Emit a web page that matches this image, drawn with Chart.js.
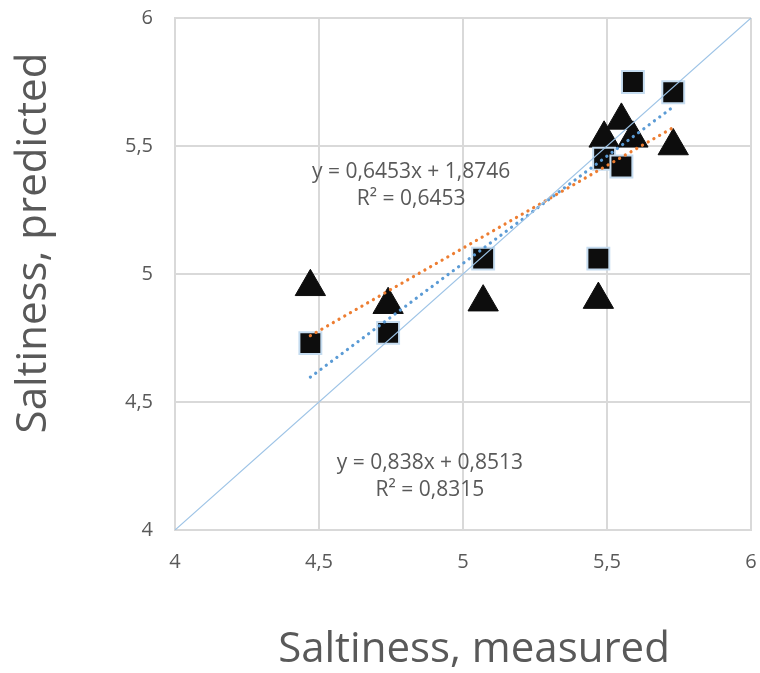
<!DOCTYPE html>
<html>
<head>
<meta charset="utf-8">
<script src="https://cdn.jsdelivr.net/npm/chart.js@4.4.1/dist/chart.umd.min.js"></script>
<style>
  html, body { margin: 0; padding: 0; background: #fff; }
  #wrap { width: 760px; height: 673px; }
</style>
</head>
<body>
<div id="wrap"><canvas id="myChart" width="760" height="673"></canvas></div>
<script>
// values
const measured = [4.47, 4.74, 5.07, 5.47, 5.49, 5.55, 5.59, 5.73];
const predictedSquares = [4.73, 4.77, 5.06, 5.06, 5.45, 5.42, 5.75, 5.71];
const predictedTriangles = [4.95, 4.88, 4.89, 4.90, 5.53, 5.60, 5.53, 5.50];

// trend lines as given by the printed equations
const trendSquares = { slope: 0.838, intercept: 0.8513, r2: 0.8315 };
const trendTriangles = { slope: 0.6453, intercept: 1.8746, r2: 0.6453 };
const trendRange = [4.47, 5.73];
const identityLine = [4, 6];

const axisTicks = [4, 4.5, 5, 5.5, 6];
const xTitle = 'Saltiness, measured';
const yTitle = 'Saltiness, predicted';

const grey = '#595959';
const font = 'Open Sans';

function pairs(xs, ys) {
    return xs.map((x, i) => ({ x: x, y: ys[i] }));
}
function trendPoints(t) {
    return trendRange.map(x => ({ x: x, y: t.slope * x + t.intercept }));
}
function fmt(v, d) {
    return v.toFixed(d).replace('.', ',');
}

// equation labels, placed in data units
const labels = [
    { x: 4.82, y: 5.40, lines: ['y = ' + fmt(trendTriangles.slope, 4) + 'x + ' + fmt(trendTriangles.intercept, 4), 'R² = ' + fmt(trendTriangles.r2, 4)] },
    { x: 4.885, y: 4.26, lines: ['y = ' + fmt(trendSquares.slope, 3) + 'x + ' + fmt(trendSquares.intercept, 4), 'R² = ' + fmt(trendSquares.r2, 4)] }
];

const textPlugin = {
    id: 'texts',
    afterDatasetsDraw(chart) {
        const ctx = chart.ctx;
        const xs = chart.scales.x, ys = chart.scales.y;
        ctx.save();
        ctx.fillStyle = grey;
        ctx.font = '21px "' + font + '"';
        ctx.textAlign = 'center';
        ctx.textBaseline = 'middle';
        labels.forEach(l => {
            const px = xs.getPixelForValue(l.x);
            const py = ys.getPixelForValue(l.y);
            l.lines.forEach((t, i) => ctx.fillText(t, px, py + i * 27));
        });

        // axis titles (the reference does not centre them on the plot)
        ctx.font = '42px "' + font + '"';
        ctx.textBaseline = 'alphabetic';
        ctx.fillText(xTitle, 474, 662);
        ctx.translate(46, 243);
        ctx.rotate(-Math.PI / 2);
        ctx.fillText(yTitle, 0, 0);
        ctx.restore();
    }
};

const ctx = document.getElementById('myChart').getContext('2d');
const myChart = new Chart(ctx, {
    type: 'scatter',
    data: {
        datasets: [
            {
                type: 'line',
                data: pairs(identityLine, identityLine),
                borderColor: '#9dc3e6',
                borderWidth: 1.2,
                pointRadius: 0
            },
            {
                type: 'line',
                data: trendPoints(trendSquares),
                borderColor: '#5b9bd5',
                borderWidth: 3.2,
                borderDash: [0.1, 6.5],
                borderCapStyle: 'round',
                pointRadius: 0
            },
            {
                type: 'line',
                data: trendPoints(trendTriangles),
                borderColor: '#ed7d31',
                borderWidth: 3.2,
                borderDash: [0.1, 6.5],
                borderCapStyle: 'round',
                pointRadius: 0
            },
            {
                data: pairs(measured, predictedSquares),
                pointStyle: 'rect',
                pointRadius: 15.5,
                backgroundColor: '#0d0d0d',
                borderColor: '#c5dcf0',
                borderWidth: 2
            },
            {
                data: pairs(measured, predictedTriangles),
                pointStyle: 'triangle',
                pointRadius: 17.5,
                backgroundColor: '#0d0d0d',
                borderColor: '#0d0d0d',
                borderWidth: 1
            }
        ]
    },
    options: {
        responsive: false,
        animation: false,
        layout: { autoPadding: false, padding: { top: 18, right: 9, left: 0, bottom: 0 } },
        plugins: {
            legend: { display: false },
            tooltip: { enabled: false }
        },
        scales: {
            x: {
                type: 'linear',
                min: 4,
                max: 6,
                afterBuildTicks: s => { s.ticks = axisTicks.map(v => ({ value: v })); },
                afterFit: s => { s.height = 143; s.paddingLeft = 0; s.paddingRight = 0; },
                ticks: {
                    color: grey,
                    font: { family: font, size: 20 },
                    padding: 20,
                    callback: v => String(v).replace('.', ',')
                },
                grid: { color: '#d9d9d9', lineWidth: 2, drawTicks: false },
                border: { color: '#d9d9d9', width: 2 }
            },
            y: {
                type: 'linear',
                min: 4,
                max: 6,
                afterBuildTicks: s => { s.ticks = axisTicks.map(v => ({ value: v })); },
                afterFit: s => { s.width = 175; s.paddingTop = 0; s.paddingBottom = 0; },
                ticks: {
                    color: grey,
                    font: { family: font, size: 20 },
                    padding: 22,
                    callback: v => String(v).replace('.', ',')
                },
                grid: { color: '#d9d9d9', lineWidth: 2, drawTicks: false },
                border: { color: '#d9d9d9', width: 2 }
            }
        }
    },
    plugins: [textPlugin]
});
</script>
</body>
</html>
